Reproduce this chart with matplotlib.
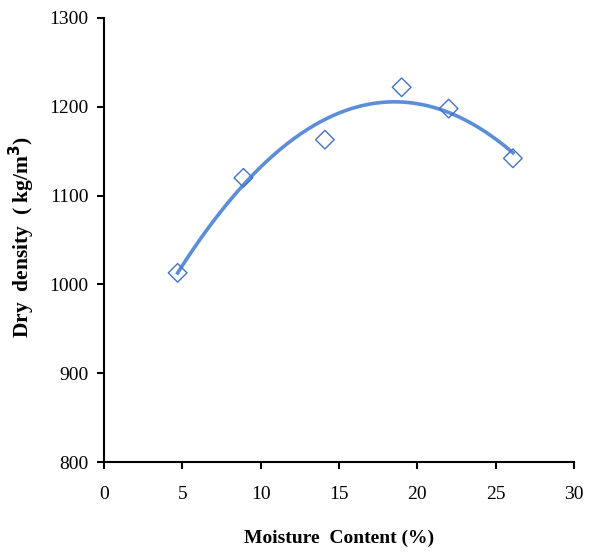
import numpy as np
import matplotlib.pyplot as plt

plt.rcParams['font.family'] = ['Liberation Serif', 'DejaVu Serif']

# measured points
moisture = [4.7, 8.9, 14.1, 19.0, 22.0, 26.1]
dry_density = [1013, 1120, 1163, 1222, 1198, 1142]

fig = plt.figure(figsize=(5.95, 5.53), dpi=100)
ax = fig.add_axes([104 / 595, 1 - 462 / 553, 470 / 595, 444 / 553])

# 2nd order polynomial trendline
coef = np.polyfit(moisture, dry_density, 2)
xs = np.linspace(min(moisture), max(moisture), 200)
ax.plot(xs, np.polyval(coef, xs), color='#5B8ED6', lw=2.6, zorder=2)

ax.scatter(moisture, dry_density, marker='D', s=90, facecolors='none',
           edgecolors='#4472C4', linewidths=1.0, zorder=3)

ax.set_xlim(0, 30)
ax.set_ylim(800, 1300)
ax.set_xticks(range(0, 31, 5))
ax.set_yticks(range(800, 1301, 100))

for s in ['top', 'right']:
    ax.spines[s].set_visible(False)
for s in ['left', 'bottom']:
    ax.spines[s].set_linewidth(1.5)
ax.tick_params(direction='out', length=5, width=1.5, labelsize=14, pad=6)
ax.tick_params(axis='x', pad=12)

ax.set_xlabel('Moisture  Content (%)', fontsize=14, fontweight='bold')
ax.xaxis.set_label_coords(0.5, -(530 - 462) / 444)
ax.set_ylabel('Dry  density  ( kg/m$^\\mathbf{3}$)', fontsize=15.5, fontweight='bold')
ax.yaxis.set_label_coords(-(104 - 37) / 470, (462 - 237) / 444)

plt.savefig('out.png', dpi=100)
